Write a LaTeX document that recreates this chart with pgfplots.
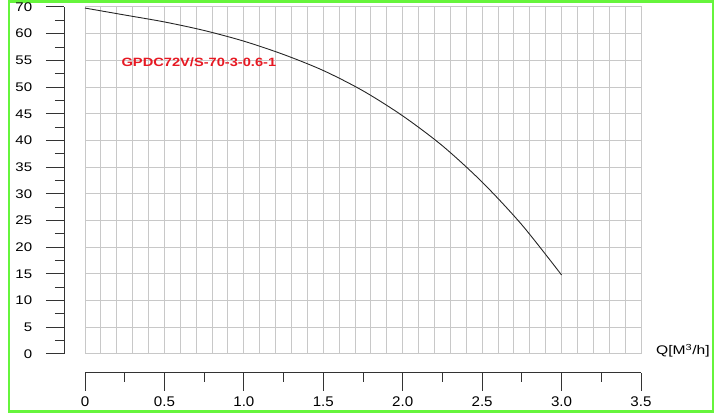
\documentclass[border=0pt]{standalone}
\usepackage{fontspec}
\setmainfont{Liberation Sans}
\usepackage{pgfplots}
\pgfplotsset{compat=1.18}
\definecolor{frame}{RGB}{102,245,60}
\definecolor{gridc}{RGB}{200,200,200}
\definecolor{lbl}{RGB}{230,25,35}

\begin{document}
\begin{tikzpicture}[x=1pt,y=1pt]
\path[use as bounding box] (0,0) rectangle (718,414);
\draw[frame, line width=2.5pt] (9,2.5) rectangle (713,412.5);

% grid only
\begin{axis}[
    at={(85pt,60pt)}, anchor=south west,
    scale only axis, width=556pt, height=347pt,
    xmin=0, xmax=3.5, ymin=0, ymax=65,
    xtick distance=0.1, ytick distance=5,
    grid=major,
    major grid style={gridc, line width=1pt},
    axis line style={gridc, line width=1pt},
    xticklabels={}, yticklabels={},
    major tick length=0pt]
\end{axis}

% axes, ticks and curve
\begin{axis}[
    at={(85pt,60pt)}, anchor=south west,
    scale only axis, width=556pt, height=347pt,
    xmin=0, xmax=3.5, ymin=0, ymax=65,
    axis lines=left,
    axis line style={-, black!80, line width=1pt},
    axis x line shift=19pt,
    axis y line shift=21pt,
    xtick={0,0.5,1,1.5,2,2.5,3,3.5},
    xticklabels={0,0.5,1.0,1.5,2.0,2.5,3.0,3.5},
    minor x tick num=1,
    ytick={0,5,10,15,20,25,30,35,40,45,50,55,60,65},
    yticklabels={0,5,10,15,20,25,30,35,40,45,50,55,60,70},
    minor y tick num=1,
    tick align=outside,
    major tick length=18pt, minor tick length=9pt,
    tick style={black!80, line width=1pt},
    xticklabel style={font=\fontsize{14}{16}\selectfont, xscale=1.08, yshift=-2pt},
    yticklabel style={font=\fontsize{12.5}{14}\selectfont, xscale=1.2, xshift=-8pt},
    clip=false]
  \addplot[black!85, line width=0.9pt, smooth] coordinates {
    (0,64.8) (0.25,63.5) (0.5,62.2) (0.75,60.6) (1.0,58.6) (1.25,56.1)
    (1.5,53.1) (1.75,49.3) (2.0,44.6) (2.25,39.0) (2.5,32.2) (2.75,24.2)
    (3.0,14.8)};
  \node[lbl, font=\bfseries\fontsize{12}{14}\selectfont, xscale=1.22]
    at (axis cs:0.717,54.6) {GPDC72V/S-70-3-0.6-1};
\end{axis}

\node[anchor=east, font=\fontsize{12.5}{14}\selectfont, xscale=1.25, inner sep=0pt]
  at (710,63.3) {Q[M\textsuperscript{3}/h]};
\end{tikzpicture}
\end{document}
